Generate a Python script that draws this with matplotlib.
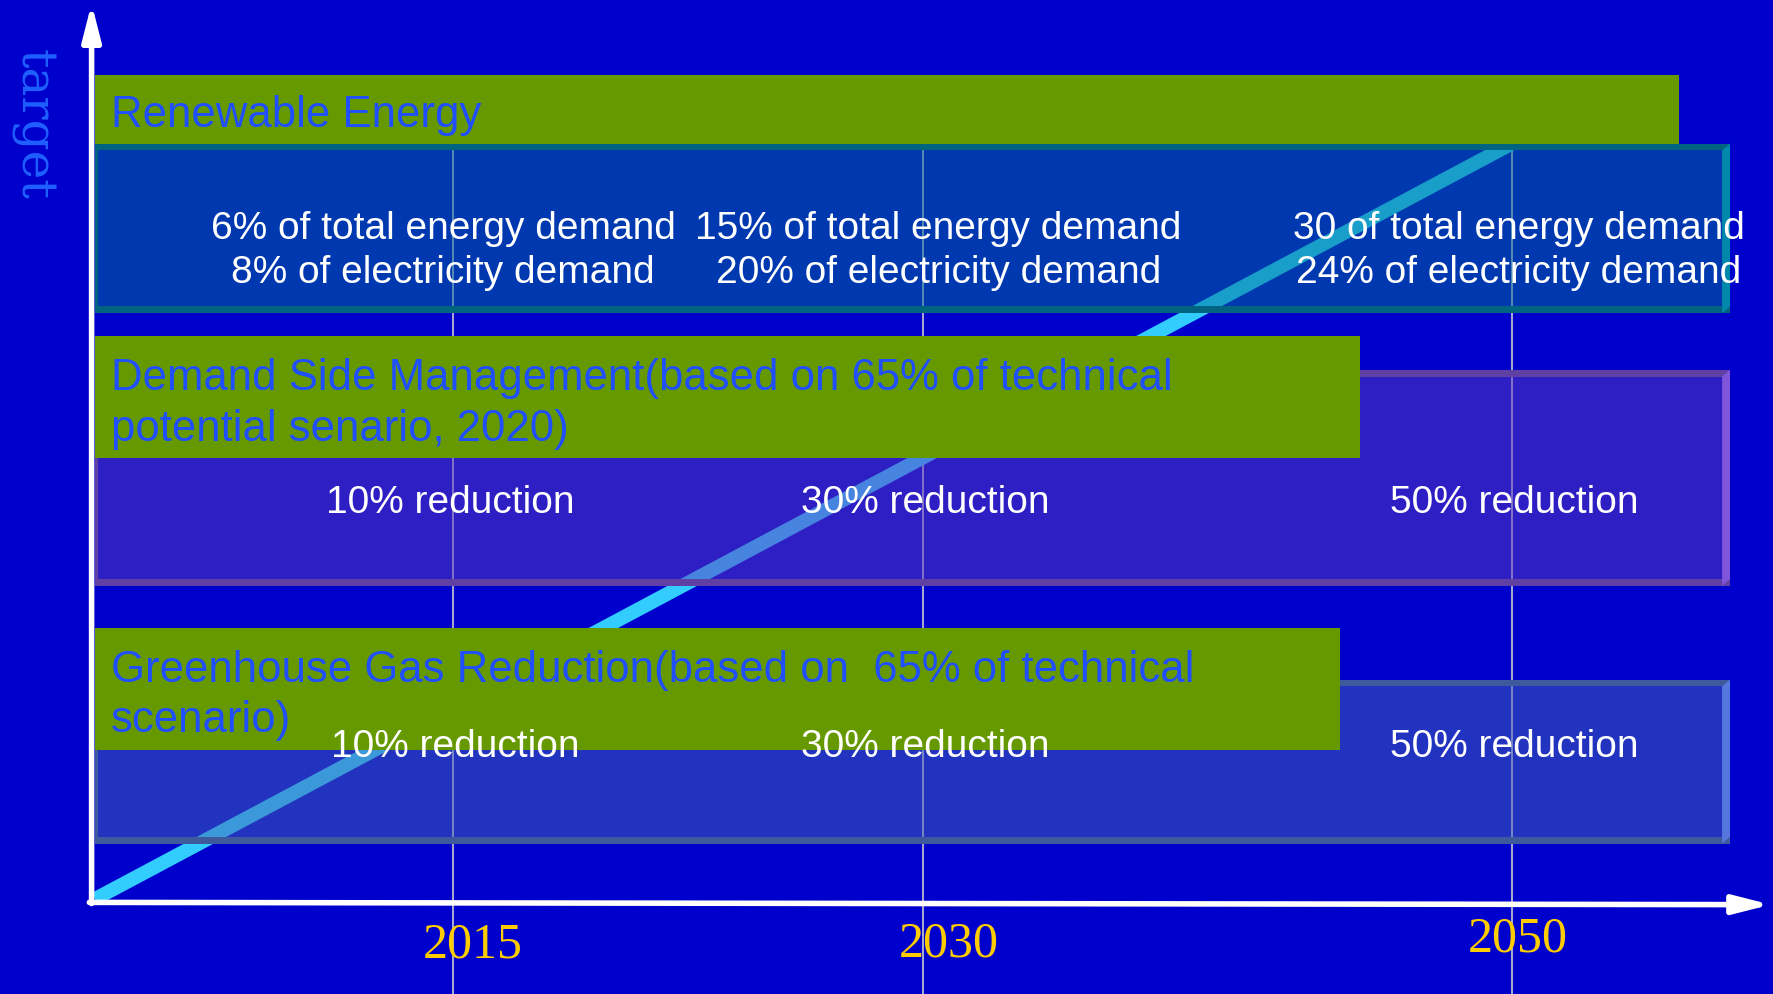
import numpy as np
import matplotlib.pyplot as plt
from matplotlib.patches import Rectangle, Polygon

# data
years = [2015, 2030, 2050]
targets = ["Renewable Energy",
           "Demand Side Management(based on 65% of technical\npotential senario, 2020)",
           "Greenhouse Gas Reduction(based on  65% of technical\nscenario)"]
renewable = ["6% of total energy demand\n8% of electricity demand",
             "15% of total energy demand\n20% of electricity demand",
             "30 of total energy demand\n24% of electricity demand"]
dsm = ["10% reduction", "30% reduction", "50% reduction"]
ghg = ["10% reduction", "30% reduction", "50% reduction"]
row_labels = [renewable, dsm, ghg]

# colours
bg = '#0000CC'
green = '#669900'
head_col = '#1F4FFF'
box_fill = ['#007094', '#5C3EC0', '#4466B4']
box_edge = ['#006480', '#6040A2', '#3E5A9C']
box_side = ['#0088AA', '#7F55D9', '#5577DD']

# layout, in pixels of a 1568 x 879 canvas
W, H = 1568, 879
year_px = [401, 816, 1337]          # where the year gridlines sit (uneven spacing)
s1 = (year_px[1] - year_px[0]) / (years[1] - years[0])
s2 = (year_px[2] - year_px[1]) / (years[2] - years[1])


def fwd(y):
    y = np.asarray(y, float)
    return np.where(y < years[1], year_px[0] + (y - years[0]) * s1,
                    year_px[1] + (y - years[1]) * s2)


def inv(p):
    p = np.asarray(p, float)
    return np.where(p < year_px[1], years[0] + (p - year_px[0]) / s1,
                    years[1] + (p - year_px[1]) / s2)


def xd(p):
    return float(inv(p))


box_y = [(127, 277), (327, 518), (601, 746)]
head_y = [(66, 127), (297, 405), (555, 663)]
head_r = [1485, 1203, 1185]
head_ty = [102, 357, 615]
lab_ty = [222, 445, 661]
lab_dx = [[-9, 14, 6], [-3, 2, 2], [2, 2, 2]]
yr_dx = [17, 23, 5]
yr_y = [836, 835, 831]
box_l, box_r = 84, 1530
bw = 6

fig = plt.figure(figsize=(17.73, 9.94), dpi=100, facecolor=bg)
ax = fig.add_axes([0, 0, 1, 1])
ax.set_xscale('function', functions=(fwd, inv))
ax.set_xlim(xd(0), xd(W))
ax.set_ylim(H, 0)
ax.axis('off')

# year gridlines
ax.vlines(years, 127, H, color='#B8B8D0', lw=1.3, zorder=1)

# rising target line
ax.plot([xd(84), years[-1]], [795, 127], color='#33CCFF', lw=10,
        solid_capstyle='butt', zorder=2)

for i in range(3):
    top, bot = box_y[i]
    L, R, Rs = xd(box_l), xd(box_r), xd(box_r - 7)
    ax.add_patch(Rectangle((L, top), R - L, bot - top, facecolor=box_fill[i],
                           alpha=0.5, lw=0, zorder=3))
    ax.add_patch(Rectangle((L, top), R - L, bw, facecolor=box_edge[i], lw=0, zorder=3.5))
    ax.add_patch(Rectangle((L, bot - bw), R - L, bw, facecolor=box_edge[i], lw=0, zorder=3.5))
    ax.add_patch(Rectangle((L, top), xd(box_l + 3) - L, bot - top, facecolor=box_edge[i],
                           lw=0, zorder=3.5))
    ax.add_patch(Polygon([(Rs, top + bw), (R, top), (R, bot - bw), (Rs, bot)],
                         facecolor=box_side[i], lw=0, zorder=3.6))
    # green header
    ht, hb = head_y[i]
    ax.add_patch(Rectangle((L, ht), xd(head_r[i]) - L, hb - ht, facecolor=green,
                           lw=0, zorder=4))
    ax.text(xd(98), head_ty[i], targets[i], color=head_col, fontsize=31.5,
            family='Liberation Sans', va='center', ha='left', linespacing=1.3, zorder=5)
    for j, (yr, lab) in enumerate(zip(years, row_labels[i])):
        x = xd(float(fwd(yr)) + lab_dx[i][j])
        ax.text(x, lab_ty[i], lab, color='white', fontsize=28, family='Liberation Sans',
                ha='center', va='center', linespacing=1.3, zorder=5)

# year labels
for j, yr in enumerate(years):
    ax.text(xd(float(fwd(yr)) + yr_dx[j]), yr_y[j], str(yr), color='#FFCC00', fontsize=36,
            family='Liberation Serif', ha='center', va='center', zorder=5)

# axes arrows
arrow = dict(arrowstyle='-|>,head_length=1.1,head_width=0.28', color='white',
             lw=4, mutation_scale=20, shrinkA=0, shrinkB=0)
ax.annotate('', xy=(xd(81), 3), xytext=(xd(81), 799), arrowprops=arrow, zorder=6)
ax.annotate('', xy=(xd(1566), 800), xytext=(xd(79), 798), arrowprops=arrow, zorder=6)

ax.text(xd(29), 110, 'target', color='#1F5FFF', fontsize=35, family='DejaVu Serif',
        rotation=270, ha='center', va='center')

fig.savefig('out.png', dpi=100, facecolor=bg)
